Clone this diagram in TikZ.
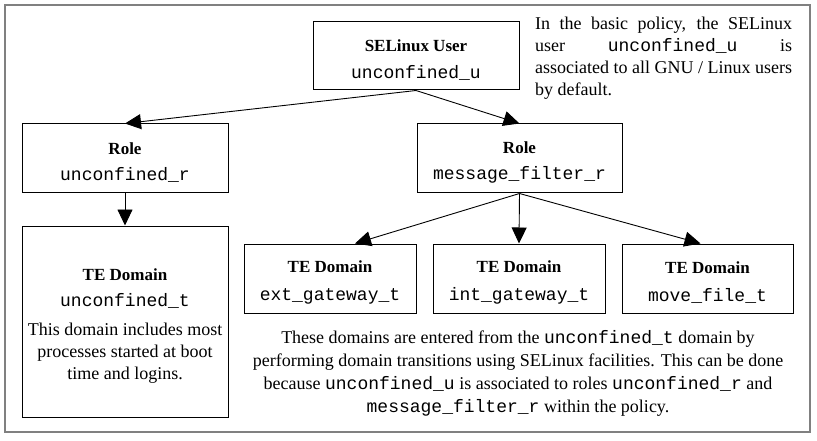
\documentclass[tikz,border=0pt]{standalone}
\usepackage{fontspec}
\setmainfont{Liberation Serif}
\setmonofont{Liberation Mono}
\usetikzlibrary{arrows.meta}
\newcommand\hd[1]{{\fontsize{17}{22}\selectfont\bfseries #1}}
\newcommand\upstrut{\rule{0pt}{20pt}}
\begin{document}
\begin{tikzpicture}[x=1pt,y=-1pt,
  every node/.style={font=\fontsize{18}{22}\selectfont},
  box/.style={draw=black, line width=1pt, inner sep=0pt, align=center},
  arr/.style={-{Triangle[length=16pt,width=15pt]}, line width=0.9pt},
  note/.style={inner sep=0pt}]
\useasboundingbox (0,0) rectangle (817,441);
\draw[draw=black!50, line width=2pt] (5,5) rectangle (810,432);

\node[box, minimum width=206pt, minimum height=68pt] (user) at (416,56)
  {\upstrut\hd{SELinux User}\\[5pt]\texttt{unconfined\_u}};
\node[box, minimum width=206pt, minimum height=69pt] (ur) at (125,158.5)
  {\upstrut\hd{Role}\\[4pt]\texttt{unconfined\_r}};
\node[box, minimum width=205pt, minimum height=69pt] (mfr) at (519.5,158.5)
  {\upstrut\hd{Role}\\[4pt]\texttt{message\_filter\_r}};
\node[box, minimum width=206pt, minimum height=191pt] (ut) at (125,321.5)
  {\upstrut\hd{TE Domain}\\[4pt]\texttt{unconfined\_t}\\[7pt]This domain includes most\\processes started at boot\\time and logins.};
\node[box, minimum width=172pt, minimum height=69pt] (ext) at (330,278.5)
  {\upstrut\hd{TE Domain}\\[6pt]\texttt{ext\_gateway\_t}};
\node[box, minimum width=172pt, minimum height=69pt] (int) at (519,278.5)
  {\upstrut\hd{TE Domain}\\[6pt]\texttt{int\_gateway\_t}};
\node[box, minimum width=171pt, minimum height=69pt] (move) at (707.5,278.5)
  {\upstrut\hd{TE Domain}\\[6pt]\texttt{move\_file\_t}};

\draw[arr] (user.south) -- (ur.north);
\draw[arr] (user.south) -- (mfr.north);
\draw[arr] (ur.south) -- (ut.north);
\draw[arr] (mfr.south) -- ([xshift=25pt]ext.north);
\draw[arr] (mfr.south) -- (int.north);
\draw[arr] (mfr.south) -- ([xshift=-7pt]move.north);

\node[note, anchor=north west, align=left] (policy) at (535,17)
  {\makebox[257pt][s]{In the basic policy, the SELinux}\\
   \makebox[257pt][s]{user \texttt{unconfined\_u} is}\\
   \makebox[257pt][s]{associated to all GNU / Linux users}\\
   by default.};
\node[note, align=center, font=\fontsize{18}{23}\selectfont] (domains) at (518,373.5)
  {These domains are entered from the \texttt{unconfined\_t} domain by\\
   performing domain transitions using SELinux facilities. This can be done\\
   because \texttt{unconfined\_u} is associated to roles \texttt{unconfined\_r} and\\
   \texttt{message\_filter\_r} within the policy.};
\end{tikzpicture}
\end{document}
